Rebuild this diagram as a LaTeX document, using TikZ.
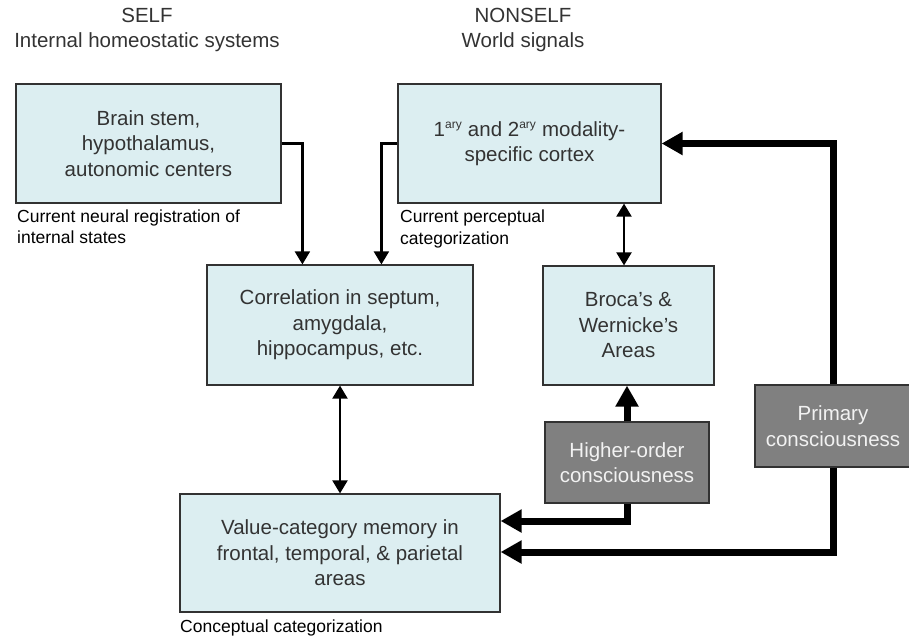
\documentclass[tikz,border=0pt]{standalone}
\usepackage{fontspec}
\setmainfont{Liberation Sans}
\usetikzlibrary{arrows.meta}
\definecolor{boxfill}{RGB}{220,238,241}
\definecolor{boxedge}{RGB}{50,50,50}
\definecolor{darkbox}{RGB}{128,128,128}
\definecolor{darktext}{RGB}{242,242,242}
\begin{document}
\begin{tikzpicture}[x=1pt,y=-1pt,
  lightbox/.style={draw=boxedge, line width=1.2pt, fill=boxfill, align=center, inner sep=0pt,
     font=\fontsize{20.5}{25.5}\selectfont, text=black!80},
  graybox/.style={draw=boxedge, line width=1.2pt, fill=darkbox, align=center, inner sep=0pt,
     font=\fontsize{20.5}{25.5}\selectfont, text=darktext},
  caption/.style={align=left, inner sep=0pt, font=\fontsize{17.5}{21.5}\selectfont, text=black},
  header/.style={align=center, inner sep=0pt, font=\fontsize{20.5}{25}\selectfont, text=black!80},
  thinarrow/.style={line width=2.2pt, draw=black, -{Triangle[width=15pt,length=13pt]}},
  thindouble/.style={line width=2.2pt, draw=black, {Triangle[width=15pt,length=13pt]}-{Triangle[width=15pt,length=13pt]}},
  thickarrow/.style={line width=7pt, draw=black, miter limit=10, -{Triangle[width=22pt,length=21pt]}}
]
\useasboundingbox (0,0) rectangle (909,637);

\node[header] (self) at (147,30) {SELF\\Internal homeostatic systems};
\node[header] (nonself) at (523,30) {NONSELF\\World signals};

\node[lightbox, minimum width=265pt, minimum height=119pt] (bs) at (148.5,143.5)
  {Brain stem,\\hypothalamus,\\autonomic centers};
\node[lightbox, minimum width=263pt, minimum height=119pt] (ns) at (529.5,143.5)
  {1\textsuperscript{\fontsize{12}{12}\selectfont ary} and 2\textsuperscript{\fontsize{12}{12}\selectfont ary} modality-\\specific cortex};
\node[lightbox, minimum width=266pt, minimum height=120pt] (corr) at (340,325)
  {Correlation in septum,\\amygdala,\\hippocampus, etc.};
\node[lightbox, minimum width=171pt, minimum height=119pt] (broca) at (628.5,325.5)
  {Broca's \&\\Wernicke's\\Areas};
\node[lightbox, minimum width=320pt, minimum height=118pt] (value) at (340,553)
  {Value-category memory in\\frontal, temporal, \& parietal\\areas};
\node[graybox, minimum width=164pt, minimum height=81pt] (ho) at (627,462.5)
  {Higher-order\\consciousness};
\node[graybox, minimum width=156pt, minimum height=82pt] (pc) at (833,426)
  {Primary\\consciousness};

\node[caption, anchor=west] (c1) at (17,226.5) {Current neural registration of\\internal states};
\node[caption, anchor=west] (c2) at (400,229) {Current perceptual\\categorization};
\node[caption, anchor=west] (c3) at (180,628) {Conceptual categorization};

\draw[thinarrow] (bs.east) -| ([xshift=96pt]corr.north west);
\draw[thinarrow] (ns.west) -| ([xshift=175pt]corr.north west);
\draw[thindouble] (ns.south -| 624,0) -- (broca.north -| 624,0);
\draw[thindouble] (corr.south) -- (value.north);

\draw[thickarrow] (ho.north) -- (ho.north |- broca.south);
\draw[thickarrow] (ho.south) |- ([yshift=32pt]value.east);
\draw[thickarrow] (pc.north) |- (ns.east);
\draw[thickarrow] (pc.south) |- ([yshift=1pt]value.east);
\end{tikzpicture}
\end{document}
